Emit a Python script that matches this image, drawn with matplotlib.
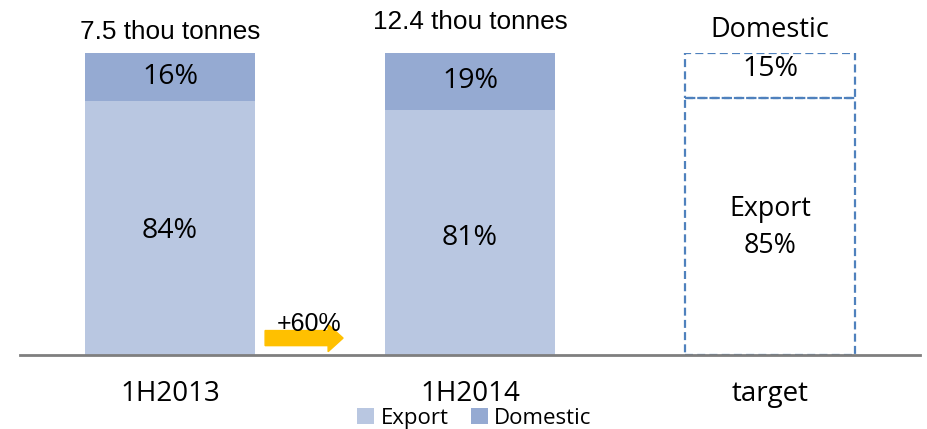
import matplotlib
matplotlib.use("Agg")
import matplotlib.pyplot as plt
from matplotlib.patches import FancyArrow

categories = ["1H2013", "1H2014", "target"]
export_share = [84, 81, 85]
domestic_share = [16, 19, 15]
totals = ["7.5 thou tonnes", "12.4 thou tonnes", "Domestic"]
growth_label = "+60%"
series_names = ["Export", "Domestic"]

c_export = "#B9C7E1"
c_domestic = "#95AAD2"
c_dash = "#4F81BD"
calib = ["Open Sans", "DejaVu Sans"]
arial = ["Liberation Sans", "DejaVu Sans"]

fig = plt.figure(figsize=(9.27, 4.29), dpi=100)
W, H = 927, 429
ax = fig.add_axes([20 / W, 1 - 355 / H, 900 / W, (355 - 53) / H])
ax.set_xlim(-0.5, 2.5)
ax.set_ylim(0, 100)
for s in ["top", "right", "left"]:
    ax.spines[s].set_visible(False)
ax.spines["bottom"].set_color("#7F7F7F")
ax.spines["bottom"].set_linewidth(2)
ax.set_yticks([])
ax.set_xticks([])

bw = 0.566
x = list(range(len(categories)))
# solid bars
ax.bar(x[:2], export_share[:2], width=bw, color=c_export, label=series_names[0], zorder=2)
ax.bar(x[:2], domestic_share[:2], bottom=export_share[:2], width=bw, color=c_domestic,
       label=series_names[1], zorder=2)
# dashed target bar
dash = (0, (3.6, 1.9))
ax.bar(x[2], export_share[2], width=bw, facecolor="none", edgecolor=c_dash,
       linestyle=dash, linewidth=1.6, zorder=2)
ax.bar(x[2], domestic_share[2], bottom=export_share[2], width=bw, facecolor="none",
       edgecolor=c_dash, linestyle=dash, linewidth=1.6, zorder=2)

pfs = 20.5
ax.text(x[0], 40.9, f"{export_share[0]}%", ha="center", va="center", fontsize=pfs, family=calib)
ax.text(x[1], 38.9, f"{export_share[1]}%", ha="center", va="center", fontsize=pfs, family=calib)
ax.text(x[0], 91.9, f"{domestic_share[0]}%", ha="center", va="center", fontsize=pfs, family=calib)
ax.text(x[1], 90.6, f"{domestic_share[1]}%", ha="center", va="center", fontsize=pfs, family=calib)
ax.text(x[2], 42.3, f"Export\n{export_share[2]}%", ha="center",
        va="center", fontsize=19.3, family=calib, linespacing=1.45)
ax.text(x[2], 94.8, f"{domestic_share[2]}%",
        ha="center", va="center", fontsize=pfs, family=calib)

tot_y = [107.0, 110.3, 107.6]
for i in range(3):
    ax.text(x[i], tot_y[i], totals[i], ha="center", va="center",
            fontsize=18.8 if i < 2 else 19.5,
            family=arial if i < 2 else calib, clip_on=False)

for i, c in enumerate(categories):
    ax.text(x[i], -12.8, c, ha="center", va="center", fontsize=20, family=calib, clip_on=False)

# growth arrow
ax.add_patch(FancyArrow(0.317, 5.6, 0.26, 0, width=5.0, head_width=9.0, head_length=0.05,
                        length_includes_head=True, color="#FFC000", zorder=3, clip_on=False))
ax.text(0.463, 10.3, growth_label, ha="center", va="center", fontsize=18, family=arial, zorder=4)

leg = ax.legend(loc="center", bbox_to_anchor=(0.505, -0.209),
                ncol=2, frameon=False, prop={"family": calib, "size": 16},
                handlelength=0.75, handleheight=0.75, handletextpad=0.3, columnspacing=1.0,
                borderpad=0)

fig.savefig("out.png", dpi=100)
